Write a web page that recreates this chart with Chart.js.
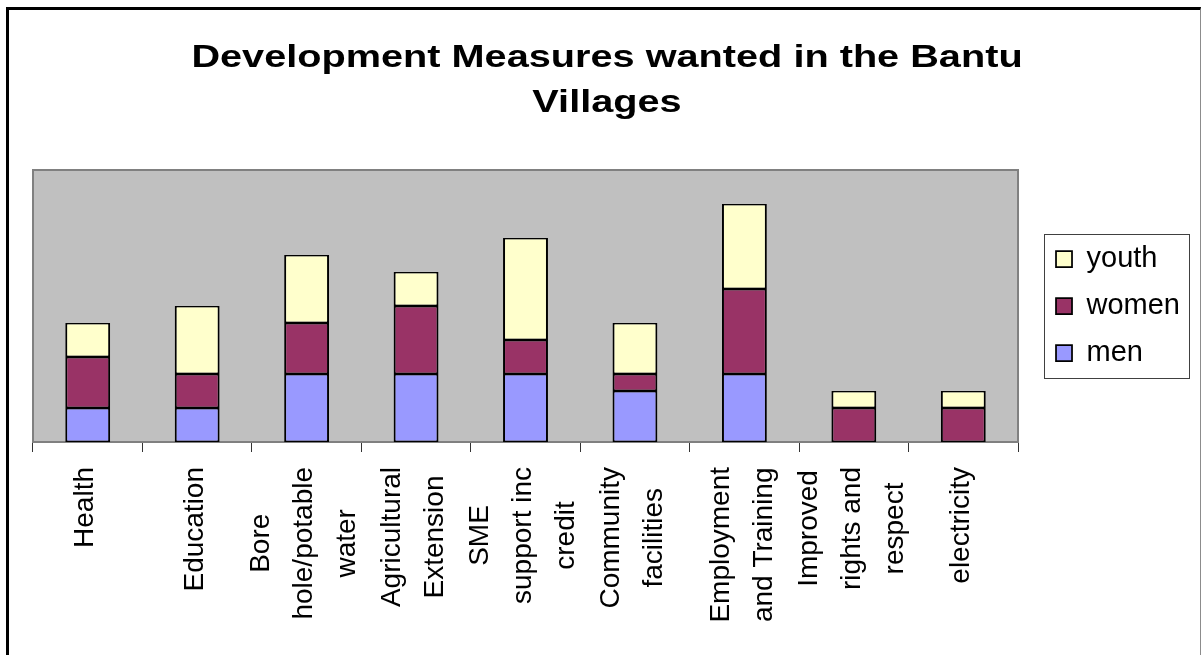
<!DOCTYPE html>
<html>
<head>
<meta charset="utf-8">
<script src="https://cdn.jsdelivr.net/npm/chart.js@4.4.1/dist/chart.umd.min.js"></script>
<style>
  html, body { margin: 0; padding: 0; background: #fff; overflow: hidden; }
  #wrap { position: relative; width: 1203px; height: 655px; }
  #frame { position: absolute; left: 6px; top: 7px; width: 1191px; height: 700px;
           border-left: 3px solid #000; border-top: 3px solid #000; border-right: 1px solid #8c8c8c; }
  #chart { position: absolute; left: 0; top: 0; }
</style>
</head>
<body>
<div id="wrap"><div id="frame"></div><canvas id="chart"></canvas></div>
<script>
// chart data
const TITLE = ['Development Measures wanted in the Bantu', 'Villages'];
const CATEGORIES = [
  ['Health'],
  ['Education'],
  ['Bore', 'hole/potable', 'water'],
  ['Agricultural', 'Extension'],
  ['SME', 'support inc', 'credit'],
  ['Community', 'facilities'],
  ['Employment', 'and Training'],
  ['Improved', 'rights and', 'respect'],
  ['electricity'],
];
const MEN   = [2, 2, 4, 4, 4, 3, 4, 0, 0];
const WOMEN = [3, 2, 3, 4, 2, 1, 5, 2, 2];
const YOUTH = [2, 4, 4, 2, 6, 3, 5, 1, 1];
const Y_MAX = 16;

const FONT = '"Liberation Sans", Arial, sans-serif';
const PLOT_BG = '#C0C0C0';
const PLOT_EDGE = '#808080';
const LABEL_SIZE = 28;
const LABEL_LINE = 43;

// grey plot area with its frame, under the bars
const plotFrame = {
  id: 'plotFrame',
  beforeDatasetsDraw(chart) {
    const { ctx, chartArea: a } = chart;
    ctx.save();
    ctx.fillStyle = PLOT_BG;
    ctx.fillRect(a.left, a.top, a.width, a.height);
    ctx.strokeStyle = PLOT_EDGE;
    ctx.lineWidth = 2;
    ctx.strokeRect(a.left, a.top, a.width, a.height);
    ctx.restore();
  },
};

// rotated category labels, lines centred on each other like Excel does
const categoryLabels = {
  id: 'categoryLabels',
  afterDraw(chart) {
    const { ctx } = chart;
    const scale = chart.scales.x;
    ctx.save();
    ctx.font = `${LABEL_SIZE}px ${FONT}`;
    ctx.fillStyle = '#000';
    ctx.textAlign = 'center';
    ctx.textBaseline = 'middle';
    chart.data.labels.forEach((lines, i) => {
      const px = scale.getPixelForTick(i);
      const maxW = Math.max(...lines.map((l) => ctx.measureText(l).width));
      const cy = scale.top + 25 + maxW / 2;
      lines.forEach((line, j) => {
        ctx.save();
        ctx.translate(px - 2 + (j - (lines.length - 1) / 2) * LABEL_LINE, cy);
        ctx.rotate(-Math.PI / 2);
        ctx.fillText(line, 0, 0);
        ctx.restore();
      });
    });
    ctx.restore();
  },
};

// wide bold title (the original is stretched horizontally)
const stretchedTitle = {
  id: 'stretchedTitle',
  afterDraw(chart) {
    const { ctx } = chart;
    ctx.save();
    ctx.font = `bold 32px ${FONT}`;
    ctx.fillStyle = '#000';
    ctx.textAlign = 'center';
    ctx.textBaseline = 'alphabetic';
    TITLE.forEach((line, i) => {
      ctx.save();
      ctx.translate(607, 67 + i * 45);
      ctx.scale(1.24, 1);
      ctx.fillText(line, 0, 0);
      ctx.restore();
    });
    ctx.restore();
  },
};

// keep the legend beside the plot only, a little away from it, and box it in
const legendBox = {
  id: 'legendBox',
  afterLayout(chart) {
    const lg = chart.legend;
    lg.left += 20;
    lg.right += 20;
    lg.top = chart.chartArea.top;
    lg.bottom = chart.chartArea.bottom;
    lg.height = lg.bottom - lg.top;
  },
  afterDraw(chart) {
    const lg = chart.legend;
    const pad = lg.options.labels.padding;
    const { ctx } = chart;
    const colH = lg.columnSizes[0].height;
    const y0 = (lg.top + pad + lg.bottom - colH) / 2;
    const itemsW = Math.max(...lg.legendHitBoxes.map((h) => h.width));
    const x0 = lg.left + pad;
    ctx.save();
    ctx.strokeStyle = '#404040';
    ctx.lineWidth = 1;
    ctx.strokeRect(Math.round(x0 - 12) + 0.5, Math.round(y0 - 11) + 0.5,
                   Math.round(itemsW + 21), Math.round(colH - pad + 21));
    ctx.restore();
  },
};

const barStyle = {
  borderColor: '#000',
  borderWidth: { top: 1.5, bottom: 1.5, left: 2, right: 2 },
  borderSkipped: false,
};

new Chart(document.getElementById('chart'), {
  type: 'bar',
  data: {
    labels: CATEGORIES,
    datasets: [
      { label: 'men',   data: MEN,   backgroundColor: '#9999FF', ...barStyle },
      { label: 'women', data: WOMEN, backgroundColor: '#993366', ...barStyle },
      { label: 'youth', data: YOUTH, backgroundColor: '#FFFFCC', ...barStyle },
    ],
  },
  options: {
    responsive: true,
    maintainAspectRatio: false,
    animation: false,
    layout: { padding: { top: 170, left: 33, right: 33, bottom: 0 } },
    datasets: { bar: { categoryPercentage: 1, barPercentage: 0.41 } },
    plugins: {
      title: { display: false },
      tooltip: { enabled: false },
      legend: {
        position: 'right',
        reverse: true,
        labels: {
          color: '#000',
          font: { family: FONT, size: 29 },
          boxWidth: 16,
          boxHeight: 16,
          padding: 18,
        },
      },
    },
    scales: {
      x: {
        stacked: true,
        grid: { display: true, offset: true, drawOnChartArea: false, drawTicks: true,
                tickLength: 10, color: '#333', lineWidth: 1 },
        border: { display: false },
        ticks: { display: false },
        afterFit: (scale) => { scale.height = 213; },
      },
      y: {
        stacked: true,
        display: false,
        min: 0,
        max: Y_MAX,
      },
    },
  },
  plugins: [plotFrame, categoryLabels, stretchedTitle, legendBox],
});
</script>
</body>
</html>
